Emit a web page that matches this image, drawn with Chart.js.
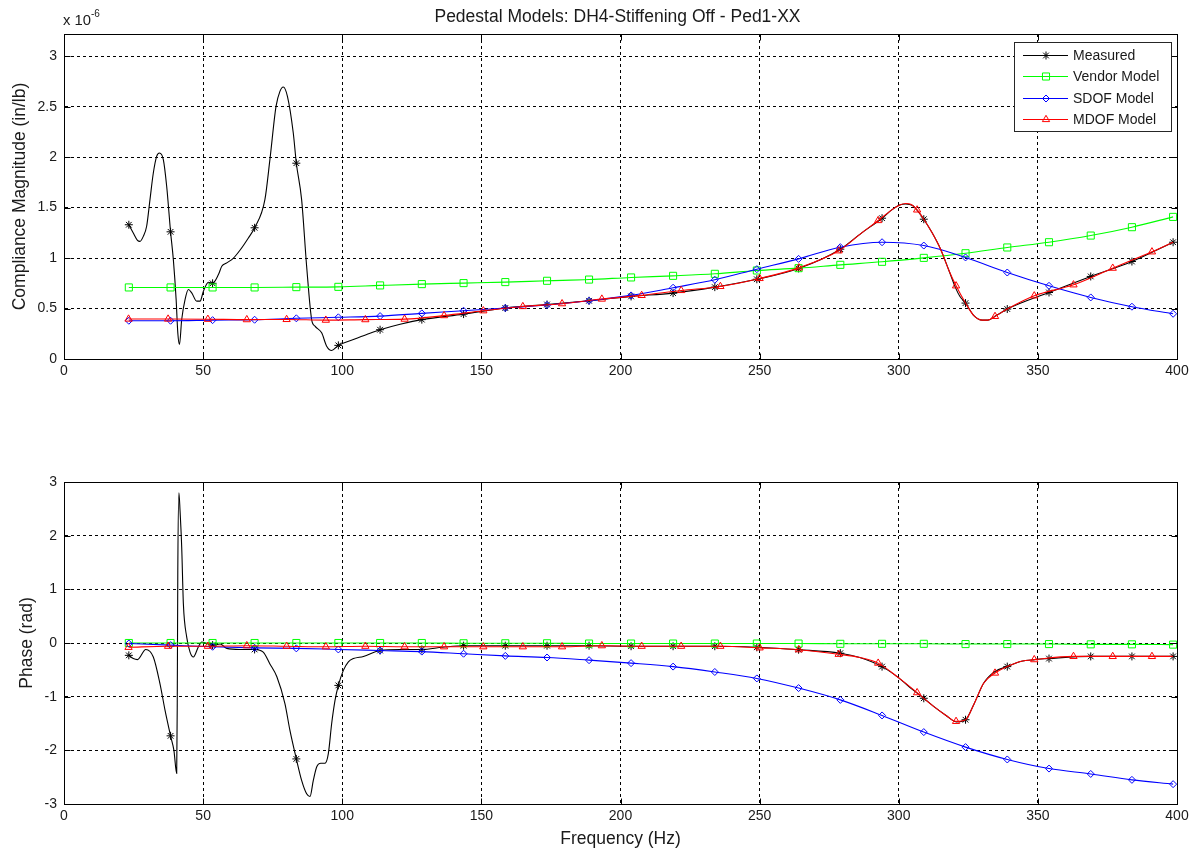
<!DOCTYPE html>
<html>
<head>
<meta charset="utf-8">
<script src="https://cdn.jsdelivr.net/npm/chart.js@4.4.1/dist/chart.umd.min.js"></script>
<style>
  html, body { margin: 0; padding: 0; background: #fff; }
  body { width: 1196px; height: 855px; position: relative; overflow: hidden;
         font-family: "Liberation Sans", Arial, Helvetica, sans-serif; color: #1a1a1a; }
  #cTop { position: absolute; left: 0; top: 0; }
  #cBot { position: absolute; left: 0; top: 440px; }
  #title { position: absolute; left: 0; width: 1235px; top: 8px; text-align: center;
           font-size: 17.5px; line-height: 1; white-space: nowrap; }
  #expo { position: absolute; left: 63px; top: 13px; font-size: 14.8px; line-height: 1; white-space: nowrap; }
  #expo span { font-size: 10px; position: relative; top: -8px; }
</style>
</head>
<body>
<canvas id="cTop" width="1196" height="400" style="width:1196px;height:400px"></canvas>
<canvas id="cBot" width="1196" height="415" style="width:1196px;height:415px"></canvas>
<div id="title">Pedestal Models: DH4-Stiffening Off - Ped1-XX</div>
<div id="expo">x 10<span>-6</span></div>
<script>
// ---------------- DATA ----------------
// Magnitudes are in units of 1e-6 in/lb (axis shows "x 10^-6").
const seriesNames = ['Measured', 'Vendor Model', 'SDOF Model', 'MDOF Model'];
const xTickLabels = [0, 50, 100, 150, 200, 250, 300, 350, 400];
const magTickLabels = [0, 0.5, 1, 1.5, 2, 2.5, 3];
const phaseTickLabels = [-3, -2, -1, 0, 1, 2, 3];

// marker frequencies (Hz) of Measured, Vendor and SDOF series
const markerFreq = [23.3, 38.3, 53.4, 68.5, 83.5, 98.6, 113.6, 128.6, 143.6, 158.6, 173.6, 188.7, 203.8,
  218.9, 233.9, 249.0, 264.0, 279.0, 294.0, 309.0, 324.0, 339.0, 354.0, 369.0, 383.8, 398.6];
// marker frequencies (Hz) of MDOF series
const mdofMarkerFreq = [23.2, 37.4, 51.7, 65.7, 80.0, 94.1, 108.3, 122.4, 136.6, 150.7, 164.9, 179.0, 193.3,
  207.6, 221.8, 235.9, 250.0, 264.1, 278.4, 292.6, 306.6, 320.6, 334.6, 348.7, 362.8, 376.9, 391.0];

// ---- Magnitude ----
const measuredMagLineFreq = [23.3, 24.9, 26.4, 27.3, 28.5, 29.7, 30.9, 32.1, 33.3, 34.3, 35.7, 36.9, 38.3, 39.3,
  40.3, 40.9, 41.5, 42.3, 43.5, 44.7, 45.9, 47.7, 48.9, 50.1, 51.9, 53.4, 55.5, 56.7, 58.5, 60.9, 63.3, 66.2,
  68.5, 72.2, 74.0, 76.2, 77.6, 78.8, 80.3, 82.4, 83.5, 85.4, 87.2, 89.0, 90.2, 92.6, 94.4, 96.2, 98.6, 104.0,
  108.8, 113.6, 120.8, 128.6, 143.6, 158.6, 173.6, 188.7, 203.8, 218.9, 233.9, 249.0, 264.0, 279.0, 286.7,
  294.0, 297.6, 300.3, 302.5, 305.0, 307.0, 309.0, 312.0, 315.0, 318.0, 320.5, 322.0, 324.0, 327.0, 330.0,
  332.0, 335.0, 339.0, 354.0, 369.0, 383.8, 398.6];
const measuredMagLine = [1.33, 1.248, 1.175, 1.165, 1.215, 1.315, 1.579, 1.843, 2.008, 2.041, 1.975, 1.711, 1.26,
  0.985, 0.589, 0.259, 0.144, 0.391, 0.589, 0.688, 0.655, 0.573, 0.573, 0.671, 0.76, 0.75, 0.836, 0.919, 0.952,
  1.0, 1.08, 1.197, 1.30, 1.579, 1.975, 2.503, 2.652, 2.695, 2.602, 2.239, 1.94, 1.579, 0.919, 0.391, 0.325,
  0.259, 0.127, 0.084, 0.135, 0.193, 0.243, 0.29, 0.345, 0.39, 0.445, 0.505, 0.54, 0.577, 0.62, 0.653, 0.712,
  0.79, 0.897, 1.088, 1.25, 1.395, 1.48, 1.525, 1.536, 1.52, 1.46, 1.385, 1.25, 1.09, 0.88, 0.70, 0.62, 0.554,
  0.43, 0.385, 0.385, 0.43, 0.495, 0.659, 0.818, 0.966, 1.157];
const measuredMagAtMarkers = [1.33, 1.26, 0.75, 1.30, 1.94, 0.135, 0.29, 0.39, 0.445, 0.505, 0.54, 0.577, 0.62,
  0.653, 0.712, 0.79, 0.897, 1.088, 1.395, 1.385, 0.554, 0.495, 0.659, 0.818, 0.966, 1.157];
const vendorMag = [0.709, 0.709, 0.709, 0.709, 0.712, 0.715, 0.729, 0.742, 0.752, 0.762, 0.775, 0.787, 0.808,
  0.824, 0.844, 0.877, 0.900, 0.933, 0.963, 1.002, 1.048, 1.105, 1.157, 1.223, 1.306, 1.408];
const sdofMag = [0.379, 0.379, 0.385, 0.389, 0.403, 0.413, 0.425, 0.452, 0.478, 0.505, 0.535, 0.577, 0.63,
  0.706, 0.785, 0.89, 0.992, 1.108, 1.157, 1.124, 1.006, 0.857, 0.725, 0.61, 0.518, 0.448];
const mdofMagAtMarkers = [0.396, 0.396, 0.394, 0.39, 0.392, 0.385, 0.39, 0.395, 0.43, 0.478, 0.52, 0.548, 0.594,
  0.63, 0.679, 0.719, 0.798, 0.903, 1.072, 1.372, 1.477, 0.725, 0.422, 0.626, 0.735, 0.90, 1.062];
const mdofMagLineFreq = [23.2, 37.4, 51.7, 65.7, 80.0, 94.1, 108.3, 122.4, 136.6, 150.7, 164.9, 179.0, 193.3,
  207.6, 221.8, 235.9, 250.0, 264.1, 278.4, 286.7, 292.6, 297.6, 300.3, 302.5, 304.5, 306.6, 309.0, 312.0,
  315.0, 318.0, 320.6, 324.0, 327.0, 330.0, 332.0, 334.6, 339.0, 348.7, 362.8, 376.9, 391.0, 398.6];
const mdofMagLine = [0.396, 0.396, 0.394, 0.39, 0.392, 0.385, 0.39, 0.395, 0.43, 0.478, 0.52, 0.548, 0.594,
  0.63, 0.679, 0.719, 0.798, 0.903, 1.072, 1.25, 1.372, 1.48, 1.525, 1.54, 1.53, 1.477, 1.385, 1.25, 1.09,
  0.88, 0.725, 0.554, 0.43, 0.385, 0.385, 0.422, 0.495, 0.626, 0.735, 0.90, 1.062, 1.157];

// ---- Phase (rad) ----
const measuredPhaseLineFreq = [23.3, 24.9, 26.4, 29.4, 32.1, 34.5, 36.3, 38.3, 39.5, 40.5, 40.7, 40.9, 41.3, 41.7,
  42.3, 42.9, 44.1, 45.3, 46.5, 48.3, 49.5, 51.3, 53.4, 56.1, 58.5, 63.3, 68.5, 71.6, 74.0, 76.5, 79.4, 81.2,
  83.5, 85.4, 87.2, 88.4, 89.6, 90.8, 92.3, 93.8, 95.0, 96.2, 97.4, 98.6, 100.4, 102.2, 104.0, 107.6, 113.6,
  120.8, 128.6, 136.0, 143.6, 158.6, 173.6, 188.7, 203.8, 218.9, 233.9, 249.0, 264.0, 279.0, 286.0, 294.0,
  300.0, 305.0, 309.0, 313.0, 317.0, 320.7, 324.0, 327.1, 330.5, 334.6, 339.0, 344.1, 348.9, 354.0, 369.0,
  383.8, 398.6];
const measuredPhaseLine = [-0.23, -0.29, -0.31, -0.12, -0.26, -0.76, -1.25, -1.73, -2.0, -2.43, -1.13, 1.35, 2.80,
  2.47, 1.79, 0.73, 0.11, -0.17, -0.26, -0.07, 0.02, -0.01, -0.04, -0.02, -0.10, -0.12, -0.12, -0.17, -0.39,
  -0.63, -1.13, -1.63, -2.16, -2.56, -2.81, -2.86, -2.56, -2.31, -2.24, -2.24, -2.06, -1.50, -1.07, -0.79,
  -0.51, -0.35, -0.29, -0.25, -0.14, -0.12, -0.12, -0.08, -0.05, -0.05, -0.05, -0.05, -0.06, -0.06, -0.06,
  -0.08, -0.125, -0.19, -0.27, -0.44, -0.65, -0.87, -1.03, -1.2, -1.35, -1.47, -1.43, -1.13, -0.75, -0.53,
  -0.44, -0.34, -0.31, -0.29, -0.25, -0.25, -0.25];
const measuredPhaseAtMarkers = [-0.23, -1.73, -0.04, -0.12, -2.16, -0.79, -0.14, -0.12, -0.05, -0.05, -0.05, -0.05,
  -0.06, -0.06, -0.06, -0.08, -0.125, -0.19, -0.44, -1.03, -1.43, -0.44, -0.29, -0.25, -0.25, -0.25];
const vendorPhase = [0.0, 0.0, 0.0, 0.0, 0.0, 0.0, 0.0, 0.0, -0.005, -0.005, -0.005, -0.01, -0.01, -0.01, -0.01,
  -0.01, -0.01, -0.015, -0.015, -0.015, -0.02, -0.02, -0.02, -0.025, -0.025, -0.03];
const sdofPhase = [-0.01, -0.04, -0.07, -0.09, -0.10, -0.12, -0.14, -0.16, -0.20, -0.24, -0.27, -0.32, -0.375,
  -0.44, -0.54, -0.66, -0.84, -1.06, -1.35, -1.66, -1.94, -2.17, -2.34, -2.44, -2.55, -2.63];
const mdofPhaseAtMarkers = [-0.08, -0.06, -0.06, -0.05, -0.06, -0.07, -0.06, -0.07, -0.07, -0.07, -0.07, -0.07,
  -0.05, -0.06, -0.06, -0.06, -0.09, -0.125, -0.21, -0.375, -0.925, -1.46, -0.56, -0.31, -0.25, -0.25, -0.25];
const mdofPhaseLineFreq = [23.2, 37.4, 51.7, 65.7, 80.0, 94.1, 108.3, 122.4, 136.6, 150.7, 164.9, 179.0, 193.3,
  207.6, 221.8, 235.9, 250.0, 264.1, 278.4, 286.0, 292.6, 300.0, 306.6, 313.0, 317.0, 320.6, 324.0, 327.1,
  330.5, 334.6, 339.0, 344.1, 348.7, 362.8, 376.9, 391.0, 398.6];
const mdofPhaseLine = [-0.08, -0.06, -0.06, -0.05, -0.06, -0.07, -0.06, -0.07, -0.07, -0.07, -0.07, -0.07, -0.05,
  -0.06, -0.06, -0.06, -0.09, -0.125, -0.21, -0.27, -0.375, -0.65, -0.925, -1.2, -1.35, -1.46, -1.43, -1.13,
  -0.75, -0.56, -0.44, -0.34, -0.31, -0.25, -0.25, -0.25, -0.25];

// ---------------- STYLE ----------------
const FONT = '"Liberation Sans", Arial, Helvetica, sans-serif';
const TXT = '#1a1a1a';
const styles = [
  { color: '#000000', point: 'star', r: 4 },
  { color: '#00ff00', point: 'rect', r: 5 },
  { color: '#0000ff', point: 'rectRot', r: 3.5 },
  { color: '#ff0000', point: 'triangle', r: 4.2 }
];
Chart.defaults.font.family = FONT;
Chart.defaults.color = TXT;

function pts(xs, ys) { return xs.map((x, i) => ({ x: x, y: ys[i] })); }
function lineDs(idx, xs, ys) {
  const s = styles[idx];
  return { label: seriesNames[idx], data: pts(xs, ys), borderColor: s.color, borderWidth: 1.1,
    pointRadius: 0, fill: false, cubicInterpolationMode: 'monotone', order: 10 - idx * 2 };
}
function markerDs(idx, xs, ys) {
  const s = styles[idx];
  return { label: seriesNames[idx] + ' markers', data: pts(xs, ys), showLine: false,
    pointStyle: s.point, pointRadius: s.r, pointBorderColor: s.color, pointBorderWidth: 1,
    pointBackgroundColor: 'rgba(0,0,0,0)', order: 9 - idx * 2 };
}

// legend marker glyphs (same shapes as Chart.js point styles)
function drawMarker(ctx, style, x, y, r, color) {
  ctx.save();
  ctx.strokeStyle = color; ctx.lineWidth = 1;
  ctx.beginPath();
  if (style === 'star') {
    const d = r * Math.SQRT1_2;
    ctx.moveTo(x - r, y); ctx.lineTo(x + r, y);
    ctx.moveTo(x, y - r); ctx.lineTo(x, y + r);
    ctx.moveTo(x - d, y - d); ctx.lineTo(x + d, y + d);
    ctx.moveTo(x - d, y + d); ctx.lineTo(x + d, y - d);
  } else if (style === 'rect') {
    const s = r * Math.SQRT1_2;
    ctx.rect(x - s, y - s, 2 * s, 2 * s);
  } else if (style === 'rectRot') {
    ctx.moveTo(x - r, y); ctx.lineTo(x, y - r); ctx.lineTo(x + r, y); ctx.lineTo(x, y + r); ctx.closePath();
  } else if (style === 'triangle') {
    const a = Math.sin(Math.PI / 3) * r;
    ctx.moveTo(x, y - r); ctx.lineTo(x + a, y + r / 2); ctx.lineTo(x - a, y + r / 2); ctx.closePath();
  }
  ctx.stroke();
  ctx.restore();
}

const framePlugin = {
  id: 'frame',
  afterDraw(chart) {
    const { ctx, chartArea: a } = chart;
    ctx.save();
    ctx.strokeStyle = '#000'; ctx.lineWidth = 1; ctx.setLineDash([]);
    const L = Math.round(a.left) + 0.5, R = Math.round(a.right) + 0.5;
    const T = Math.round(a.top) + 0.5, B = Math.round(a.bottom) + 0.5;
    ctx.strokeRect(L, T, R - L, B - T);
    const tl = 6;
    ctx.beginPath();
    chart.scales.x.ticks.forEach(t => {
      const px = Math.round(chart.scales.x.getPixelForValue(t.value)) + 0.5;
      ctx.moveTo(px, B); ctx.lineTo(px, B - tl);
      ctx.moveTo(px, T); ctx.lineTo(px, T + tl);
    });
    chart.scales.y.ticks.forEach(t => {
      const py = Math.round(chart.scales.y.getPixelForValue(t.value)) + 0.5;
      ctx.moveTo(L, py); ctx.lineTo(L + tl, py);
      ctx.moveTo(R, py); ctx.lineTo(R - tl, py);
    });
    ctx.stroke();
    ctx.restore();
  }
};

const legendPlugin = {
  id: 'matlabLegend',
  afterDraw(chart) {
    if (!chart.options.plugins.matlabLegend || !chart.options.plugins.matlabLegend.show) return;
    const ctx = chart.ctx;
    const bx = 1014.5, by = 42.5, bw = 157, bh = 89;
    ctx.save();
    ctx.fillStyle = '#fff'; ctx.fillRect(bx, by, bw, bh);
    ctx.strokeStyle = '#262626'; ctx.lineWidth = 1; ctx.strokeRect(bx, by, bw, bh);
    ctx.font = '14px ' + FONT; ctx.textBaseline = 'middle'; ctx.textAlign = 'left';
    seriesNames.forEach((name, i) => {
      const y = Math.round(55 + i * 21.3) + 0.5;
      const s = styles[i];
      ctx.strokeStyle = s.color; ctx.lineWidth = 1;
      ctx.beginPath(); ctx.moveTo(1023, y); ctx.lineTo(1068, y); ctx.stroke();
      drawMarker(ctx, s.point, 1046, y, s.r, s.color);
      ctx.fillStyle = TXT; ctx.fillText(name, 1073, y + 1);
    });
    ctx.restore();
  }
};

function makeChart(canvasId, datasets, yCfg, xTitle, padTop, xAxisH, yTitlePad, showLegend) {
  return new Chart(document.getElementById(canvasId), {
    type: 'line',
    data: { datasets: datasets },
    options: {
      responsive: false, animation: false, devicePixelRatio: 1, events: [],
      layout: { padding: { left: 0, right: 19, top: padTop, bottom: 0 } },
      plugins: { legend: { display: false }, tooltip: { enabled: false }, title: { display: false },
                 matlabLegend: { show: showLegend } },
      scales: {
        x: {
          type: 'linear', min: xTickLabels[0], max: xTickLabels[xTickLabels.length - 1],
          afterBuildTicks: s => { s.ticks = xTickLabels.map(v => ({ value: v })); },
          ticks: { padding: 4, color: TXT, font: { size: 14 }, maxRotation: 0, autoSkip: false,
                   callback: v => String(v) },
          grid: { color: '#000', lineWidth: 1, drawTicks: false },
          border: { display: true, color: '#000', dash: [3, 3] },
          title: xTitle ? { display: true, text: xTitle, color: TXT, font: { size: 17.5 }, padding: { top: 0, bottom: 5 } }
                        : { display: false },
          afterFit: s => { s.height = xAxisH; }
        },
        y: {
          type: 'linear', min: yCfg.min, max: yCfg.max,
          afterBuildTicks: s => { s.ticks = yCfg.ticks.map(v => ({ value: v })); },
          ticks: { padding: 7, color: TXT, font: { size: 14 }, autoSkip: false, callback: v => String(v) },
          grid: { color: '#000', lineWidth: 1, drawTicks: false },
          border: { display: true, color: '#000', dash: [3, 3] },
          title: { display: true, text: yCfg.title, color: TXT, font: { size: 17.5 }, padding: { top: yTitlePad, bottom: 0 } },
          afterFit: s => { s.width = 64; }
        }
      }
    },
    plugins: [framePlugin, legendPlugin]
  });
}

const topDatasets = [
  lineDs(0, measuredMagLineFreq, measuredMagLine), markerDs(0, markerFreq, measuredMagAtMarkers),
  lineDs(1, markerFreq, vendorMag), markerDs(1, markerFreq, vendorMag),
  lineDs(2, markerFreq, sdofMag), markerDs(2, markerFreq, sdofMag),
  lineDs(3, mdofMagLineFreq, mdofMagLine), markerDs(3, mdofMarkerFreq, mdofMagAtMarkers)
];
const botDatasets = [
  lineDs(0, measuredPhaseLineFreq, measuredPhaseLine), markerDs(0, markerFreq, measuredPhaseAtMarkers),
  lineDs(1, markerFreq, vendorPhase), markerDs(1, markerFreq, vendorPhase),
  lineDs(2, markerFreq, sdofPhase), markerDs(2, markerFreq, sdofPhase),
  lineDs(3, mdofPhaseLineFreq, mdofPhaseLine), markerDs(3, mdofMarkerFreq, mdofPhaseAtMarkers)
];

makeChart('cTop', topDatasets, { min: 0, max: 3.22, ticks: magTickLabels, title: 'Compliance Magnitude (in/lb)' },
  null, 34, 41, 9.5, true);
makeChart('cBot', botDatasets, { min: -3, max: 3, ticks: phaseTickLabels, title: 'Phase (rad)' },
  'Frequency (Hz)', 42, 51, 17, false);
</script>
</body>
</html>
